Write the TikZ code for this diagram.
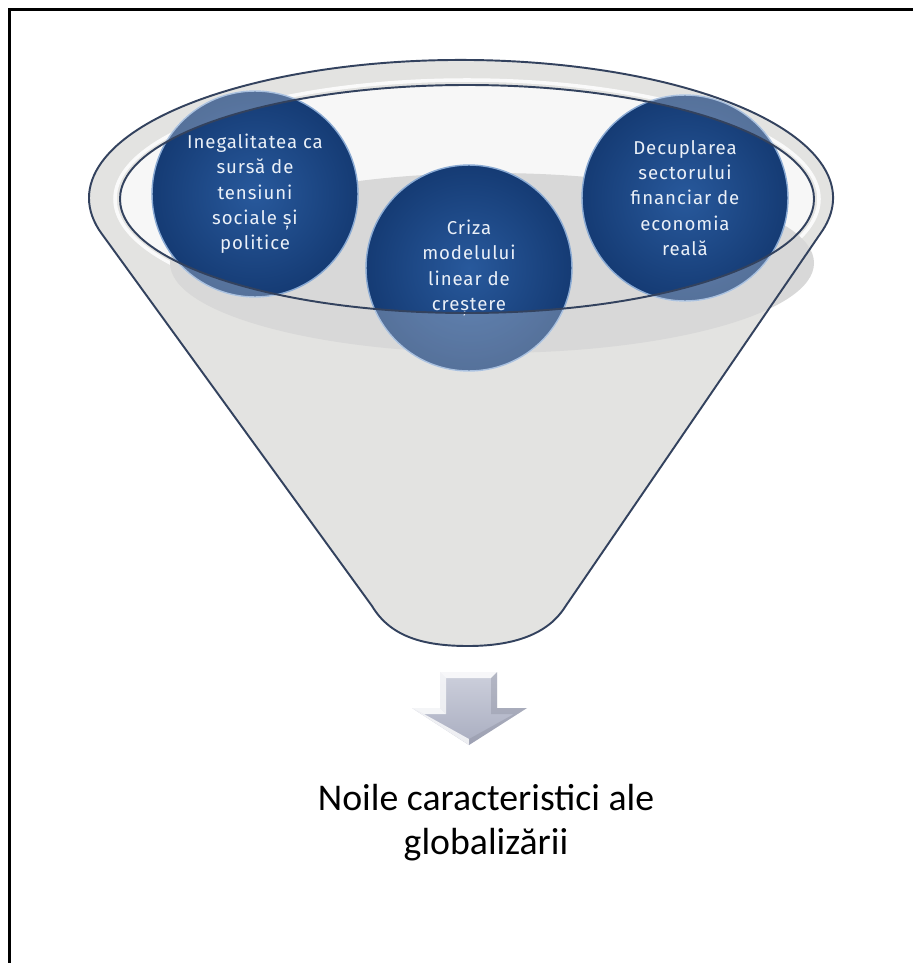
\documentclass[tikz,border=0pt]{standalone}
\usepackage{fontspec}
\setmainfont{Carlito}
\newfontfamily\circfont{Fira Sans}[LetterSpace=5]
\definecolor{funnelgray}{HTML}{E3E3E1}
\definecolor{liquid}{HTML}{D8D8D8}
\definecolor{rimdark}{HTML}{33425E}
\definecolor{bubin}{HTML}{28599C}
\definecolor{bubout}{HTML}{153B74}
\definecolor{bubrim}{HTML}{8AAAD3}
\definecolor{bubtext}{HTML}{EAF0F8}
\definecolor{arrowlight}{HTML}{CDD0DC}
\definecolor{arrowdark}{HTML}{A9ADC0}
\tikzset{
  bubble/.style={circle, minimum size=4.12cm, inner sep=0pt, shading=radial,
    inner color=bubin, outer color=bubout, draw=bubrim, line width=0.8pt,
    text=bubtext, align=center, font=\circfont\fontsize{10.6}{14.4}\selectfont},
  rimline/.style={draw=rimdark, line width=1.1pt},
  caption/.style={align=center, font=\fontsize{21.5}{25}\selectfont, text=black},
  washout/.style={fill=white, opacity=.28, even odd rule}
}
\begin{document}
\begin{tikzpicture}[x=0.02cm, y=-0.02cm]
\useasboundingbox (0,0) rectangle (913,963);
\fill[white] (0,0) rectangle (913,963);
% frame
\draw[black, line width=1.7pt] (9.5,963) -- (9.5,9.5) -- (913,9.5);
% funnel body
\fill[funnelgray] (101.7,233.7) -- (372,606) .. controls (390,636) and (422,646) .. (468,646)
  .. controls (514,646) and (548,634) .. (565,607) -- (820.3,233.7)
  arc[start angle=15, end angle=-195, x radius=372, y radius=138] -- cycle;
% rim highlight
\draw[white, line width=2pt, opacity=.85] (467,199) ellipse [x radius=352, y radius=119];
% opening
\fill[white!97!black] (467,199) ellipse [x radius=347, y radius=114];
% liquid
\fill[liquid] (492,263) ellipse [x radius=322, y radius=90];
% funnel outline
\draw[rimline] (101.7,233.7) -- (372,606) .. controls (390,636) and (422,646) .. (468,646)
  .. controls (514,646) and (548,634) .. (565,607) -- (820.3,233.7)
  arc[start angle=15, end angle=-195, x radius=372, y radius=138] -- cycle;
% bubbles
\node[bubble] (c1) at (255,194) {Inegalitatea ca\\sursă de\\tensiuni\\sociale și\\politice};
\begin{scope}
  \clip (c1.center) circle [radius=104];
  \fill[washout] (0,0) rectangle (913,963) (467,199) ellipse [x radius=347, y radius=114];
\end{scope}
\node[bubble] (c2) at (469,268) {Criza\\modelului\\linear de\\creștere};
\begin{scope}
  \clip (c2.center) circle [radius=104];
  \fill[washout] (0,0) rectangle (913,963) (467,199) ellipse [x radius=347, y radius=114];
\end{scope}
\node[bubble] (c3) at (685,198) {Decuplarea\\sectorului\\financiar de\\economia\\reală};
\begin{scope}
  \clip (c3.center) circle [radius=104];
  \fill[washout] (0,0) rectangle (913,963) (467,199) ellipse [x radius=347, y radius=114];
\end{scope}
% inner ellipse outline
\draw[rimline] (467,199) ellipse [x radius=347, y radius=114];
% arrow
\shade[top color=arrowlight, bottom color=arrowdark]
  (440,672) -- (497,672) -- (497,708) -- (527,708) -- (469,745) -- (412,708) -- (440,708) -- cycle;
\fill[white, opacity=.85] (440,672) -- (497,672) -- (491,678) -- (446,678) -- cycle;
\fill[white, opacity=.75] (440,672) -- (446,678) -- (446,714) -- (440,708) -- cycle;
\fill[white, opacity=.85] (412,708) -- (440,708) -- (446,714) -- (424,714) -- cycle;
\fill[white, opacity=.8] (412,708) -- (424,714) -- (469,739) -- (469,745) -- cycle;
\fill[arrowdark!80!black, opacity=.35] (527,708) -- (469,745) -- (469,739) -- (514,714) -- (491,714) -- (491,678) -- (497,672) -- (497,708) -- cycle;
% caption
\node[caption] (label) at (486,823) {Noile caracteristici ale\\globalizării};
\end{tikzpicture}
\end{document}
